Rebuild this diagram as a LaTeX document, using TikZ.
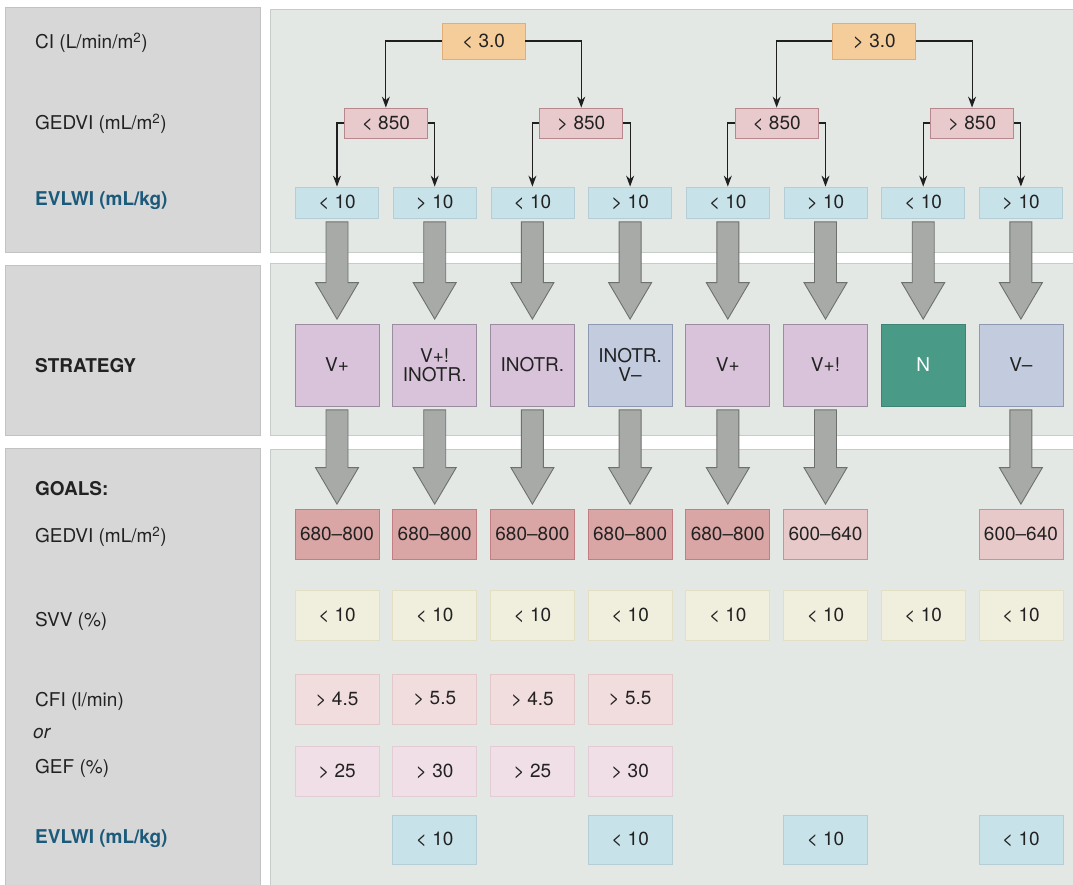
\documentclass[tikz,border=0pt]{standalone}
\usepackage{fontspec}
\setmainfont{TeX Gyre Heros}
\usetikzlibrary{arrows.meta,calc}
\definecolor{lgray}{HTML}{D7D7D7}
\definecolor{lgrayb}{HTML}{C2C2C2}
\definecolor{rgray}{HTML}{E3E8E5}
\definecolor{rgrayb}{HTML}{C6CCC8}
\definecolor{txt}{HTML}{222222}
\definecolor{evlab}{HTML}{1B5A7A}
\definecolor{orf}{HTML}{F5CD9B}
\definecolor{orb}{HTML}{E2AE78}
\definecolor{pkf}{HTML}{E8C9CC}
\definecolor{pkb}{HTML}{B8878D}
\definecolor{blf}{HTML}{C8E2EA}
\definecolor{blb}{HTML}{B5CDD6}
\definecolor{puf}{HTML}{D8C3DA}
\definecolor{pub}{HTML}{9B8CA2}
\definecolor{bgf}{HTML}{C3CCDE}
\definecolor{bgb}{HTML}{9099B2}
\definecolor{gnf}{HTML}{4A9A88}
\definecolor{gnb}{HTML}{3E8474}
\definecolor{dpf}{HTML}{D9A5A5}
\definecolor{dpb}{HTML}{C27E83}
\definecolor{lpf}{HTML}{E8C9C9}
\definecolor{lpb}{HTML}{C8929A}
\definecolor{svf}{HTML}{F0EEDC}
\definecolor{svb}{HTML}{E3DFC3}
\definecolor{cff}{HTML}{F2DDDE}
\definecolor{cfb}{HTML}{E2C8C9}
\definecolor{gef}{HTML}{F0DFE6}
\definecolor{geb}{HTML}{E2CCD5}
\definecolor{arf}{HTML}{A8AAA8}
\definecolor{arb}{HTML}{6E706E}
\tikzset{
  panelL/.style={fill=lgray, draw=lgrayb, line width=1pt},
  panelR/.style={fill=rgray, draw=rgrayb, line width=1pt},
  lab/.style={anchor=west, text=txt, inner sep=0pt},
  boldlab/.style={lab, font=\fontsize{19}{22}\selectfont\bfseries},
  evlabel/.style={boldlab, text=evlab},
  bx/.style={draw, line width=0.8pt, inner sep=0pt, minimum width=83pt, text=txt, align=center},
  cibox/.style={bx, fill=orf, draw=orb, minimum height=36pt},
  gdbox/.style={bx, fill=pkf, draw=pkb, minimum height=30pt},
  evbox/.style={bx, fill=blf, draw=blb, minimum height=31pt},
  stpu/.style={bx, fill=puf, draw=pub, minimum width=84pt, minimum height=82pt},
  stbg/.style={bx, fill=bgf, draw=bgb, minimum width=84pt, minimum height=82pt},
  stgn/.style={bx, fill=gnf, draw=gnb, minimum width=84pt, minimum height=82pt, text=white},
  gdark/.style={bx, fill=dpf, draw=dpb, minimum width=84pt, minimum height=50pt},
  glight/.style={bx, fill=lpf, draw=lpb, minimum width=84pt, minimum height=50pt},
  svbox/.style={bx, fill=svf, draw=svb, minimum width=84pt, minimum height=50pt},
  cfbox/.style={bx, fill=cff, draw=cfb, minimum width=84pt, minimum height=50pt},
  gebox/.style={bx, fill=gef, draw=geb, minimum width=84pt, minimum height=50pt},
  evgoal/.style={bx, fill=blf, draw=blb, minimum width=84pt, minimum height=49pt},
  conn/.style={draw=black!88, line width=1.1pt, -{Stealth[length=11pt,width=8pt]}},
  blockarrow/.style={draw=arb, fill=arf, line width=0.9pt, line join=miter}
}
\newcommand\blockarr[2]{%
  \draw[blockarrow] let \p1=(#1.south), \p2=(#2.north) in
    (\x1-11pt,\y1-3.5pt) -- (\x1+11pt,\y1-3.5pt) -- (\x1+11pt,\y2+41pt) --
    (\x1+21.5pt,\y2+41pt) -- (\x1,\y2+4.5pt) -- (\x1-21.5pt,\y2+41pt) --
    (\x1-11pt,\y2+41pt) -- cycle;}
\begin{document}
\begin{tikzpicture}[x=1pt,y=-1pt,font=\fontsize{19}{22}\selectfont]
\useasboundingbox (0,0) rectangle (1073,884);
% panels
\draw[panelL] (5,7) rectangle (260,252);
\draw[panelL] (5,265) rectangle (260,435);
\draw[panelL] (5,448) rectangle (260,892);
\draw[panelR] (270,9) rectangle (1082,252);
\draw[panelR] (270,263) rectangle (1082,435);
\draw[panelR] (270,449) rectangle (1082,892);
% left labels
\node[lab] (lci) at (35,43) {CI (L/min/m\textsuperscript{2})};
\node[lab] (lgd) at (35,124) {GEDVI (mL/m\textsuperscript{2})};
\node[evlabel] (lev) at (35,201) {EVLWI (mL/kg)};
\node[boldlab] (lst) at (35,366) {STRATEGY};
\node[boldlab] (lgo) at (35,489) {GOALS:};
\node[lab] (lgd2) at (35,537) {GEDVI (mL/m\textsuperscript{2})};
\node[lab] (lsv) at (35,621) {SVV (\%)};
\node[lab] (lcf) at (35,701) {CFI (l/min)};
\node[lab, font=\fontsize{19}{22}\selectfont\itshape] (lor) at (33,734) {or};
\node[lab] (lge) at (35,768) {GEF (\%)};
\node[evlabel] (lev2) at (35,839) {EVLWI (mL/kg)};
% EVLWI row
\foreach \i/\t in {1/{< 10},2/{> 10},3/{< 10},4/{> 10},5/{< 10},6/{> 10},7/{< 10},8/{> 10}}
  \node[evbox] (e\i) at ({337+97.7*(\i-1)},202.5) {\t};
% GEDVI row
\foreach \i/\t in {1/{< 850},2/{> 850},3/{< 850},4/{> 850}}
  \node[gdbox] (g\i) at ({337+97.7*(2*\i-2)+48.85},123) {\t};
% CI row
\node[cibox] (c1) at ({337+97.7*1.5},41) {< 3.0};
\node[cibox] (c2) at ({337+97.7*5.5},41) {> 3.0};
% tree connectors
\draw[conn] (c1.west) -| (g1.north);
\draw[conn] (c1.east) -| (g2.north);
\draw[conn] (c2.west) -| (g3.north);
\draw[conn] (c2.east) -| (g4.north);
\foreach \i in {1,2,3,4}{
  \pgfmathtruncatemacro\a{2*\i-1}
  \pgfmathtruncatemacro\b{2*\i}
  \draw[conn] (g\i.west) -| (e\a.north);
  \draw[conn] (g\i.east) -| (e\b.north);
}
% strategy
\node[stpu] (s1) at ({337+97.7*0},365) {V+};
\node[stpu] (s2) at ({337+97.7*1},365) {V+!\\[-3pt]INOTR.};
\node[stpu] (s3) at ({337+97.7*2},365) {INOTR.};
\node[stbg] (s4) at ({337+97.7*3},365) {INOTR.\\[-3pt]V–};
\node[stpu] (s5) at ({337+97.7*4},365) {V+};
\node[stpu] (s6) at ({337+97.7*5},365) {V+!};
\node[stgn] (s7) at ({337+97.7*6},365) {N};
\node[stbg] (s8) at ({337+97.7*7},365) {V–};
% goals GEDVI
\foreach \i in {1,...,5}
  \node[gdark] (o\i) at ({337+97.7*(\i-1)},534) {680–800};
\node[glight] (o6) at ({337+97.7*5},534) {600–640};
\node[glight] (o8) at ({337+97.7*7},534) {600–640};
% SVV
\foreach \i in {1,...,8}
  \node[svbox] (v\i) at ({337+97.7*(\i-1)},615.5) {< 10};
% CFI
\foreach \i/\t in {1/{> 4.5},2/{> 5.5},3/{> 4.5},4/{> 5.5}}
  \node[cfbox] (f\i) at ({337+97.7*(\i-1)},699) {\t};
% GEF
\foreach \i/\t in {1/{> 25},2/{> 30},3/{> 25},4/{> 30}}
  \node[gebox] (q\i) at ({337+97.7*(\i-1)},771) {\t};
% EVLWI goals
\foreach \i in {2,4,6,8}
  \node[evgoal] (w\i) at ({337+97.7*(\i-1)},839.5) {< 10};
% block arrows
\foreach \i in {1,...,8}
  \blockarr{e\i}{s\i};
\foreach \i in {1,2,3,4,5,6,8}
  \blockarr{s\i}{o\i};
\end{tikzpicture}
\end{document}
